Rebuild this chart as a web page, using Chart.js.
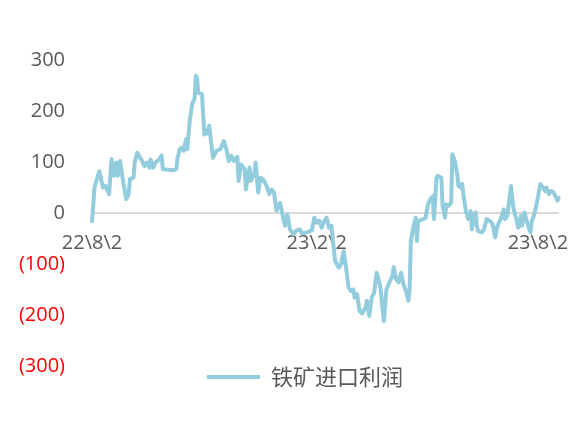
<!DOCTYPE html>
<html>
<head>
<meta charset="utf-8">
<script src="https://cdn.jsdelivr.net/npm/chart.js@4/dist/chart.umd.min.js"></script>
<style>
  html, body { margin: 0; padding: 0; background: #ffffff; }
  #wrap { width: 587px; height: 441px; }
</style>
</head>
<body>
<div id="wrap"><canvas id="c" width="587" height="441"></canvas></div>
<script>
// Series name
const seriesName = '铁矿进口利润';
// Day offsets from 2022-08-02 (calendar days)
const dayOffsets = [
  0, 1, 2, 6, 9, 11, 14, 16, 18, 20, 21, 23, 25, 28, 30, 31, 34, 35, 37, 41,
  43, 45, 47, 48, 50, 52, 55, 57, 58, 67, 69, 70, 72, 74, 75, 77, 78, 80, 82, 84,
  85, 86, 87, 90, 92, 94, 96, 99, 102, 105, 108, 110, 112, 114, 116, 119, 120, 122, 125, 126,
  129, 130, 133, 134, 136, 138, 140, 143, 145, 147, 149, 151, 153, 154, 157, 158, 160, 162, 165, 167,
  170, 172, 176, 180, 182, 184, 186, 188, 190, 192, 194, 196, 197, 199, 202, 204, 206, 208, 210, 212,
  214, 215, 217, 219, 221, 224, 225, 227, 229, 231, 233, 236, 238, 239, 241, 244, 246, 247, 249, 251,
  253, 255, 257, 259, 260, 261, 263, 265, 266, 267, 271, 273, 275, 277, 279, 280, 282, 283, 286, 287,
  289, 290, 292, 294, 295, 297, 299, 300, 302, 303, 304, 306, 308, 310, 311, 312, 314, 315, 316, 319,
  321, 323, 326, 328, 330, 332, 335, 337, 338, 340, 343, 345, 347, 349, 351, 352, 354, 357, 359, 360,
  362, 364, 367, 369, 371, 372, 374, 376, 378, 381, 382
];
// Iron ore import profit values
const profitValues = [
  -16, 14, 50, 82, 50, 53, 37, 106, 73, 99, 73, 102, 69, 27, 37, 67, 69, 99, 118, 102,
  92, 99, 89, 105, 89, 99, 105, 113, 86, 84, 86, 108, 126, 128, 122, 145, 125, 180, 214, 224,
  269, 265, 236, 233, 154, 156, 171, 108, 122, 125, 141, 125, 102, 112, 102, 110, 63, 95, 86, 46,
  89, 63, 79, 99, 40, 69, 66, 53, 37, 46, 40, 5, 14, 20, -16, -25, -3, -32, -42, -35,
  -32, -40, -38, -34, -9, -19, -15, -29, -16, -9, -29, -25, -48, -94, -107, -100, -75, -107, -146, -153,
  -150, -166, -159, -192, -197, -185, -172, -202, -166, -156, -117, -143, -192, -212, -150, -133, -124, -106, -130, -136,
  -117, -140, -153, -172, -153, -55, -29, -9, -55, -16, -12, -10, 17, 27, 33, -12, 69, 73, 69, 14,
  -9, 17, 14, 20, 115, 102, 76, 53, 50, 57, 37, 4, -12, 4, -32, -16, 1, -25, -35, -38,
  -32, -12, -16, -22, -48, -25, -9, 7, -12, -6, 53, 10, -9, -29, -6, -25, 1, -25, -38, -16,
  -3, 17, 57, 50, 43, 50, 37, 43, 40, 24, 30
];
// X tick labels and their day offsets
const xTickDays = [0, 184, 365];
const xTickLabels = ['22\\8\\2', '23\\2\\2', '23\\8\\2'];
// Y axis
const yMin = -300, yMax = 300, yStep = 100;

const points = dayOffsets.map((d, i) => ({ x: d, y: profitValues[i] }));

const textGray = '#595959';
const latinFont = "'Open Sans', 'Noto Sans', sans-serif";

// shift the legend box so it sits where the reference has it
const legendShift = {
  id: 'legendShift',
  afterLayout(chart) {
    if (chart.legend) { chart.legend.left += 22; chart.legend.right += 22; }
  }
};

new Chart(document.getElementById('c'), {
  type: 'line',
  data: {
    datasets: [{
      label: seriesName,
      data: points,
      borderColor: '#93CDDD',
      backgroundColor: '#93CDDD',
      borderWidth: 4,
      pointRadius: 0,
      tension: 0,
      borderJoinStyle: 'round',
      borderCapStyle: 'round',
      clip: 6
    }]
  },
  plugins: [legendShift],
  options: {
    responsive: false,
    animation: false,
    devicePixelRatio: 1,
    layout: { padding: { top: 60, right: 21, bottom: 43, left: 0 } },
    plugins: {
      tooltip: { enabled: false },
      legend: {
        position: 'bottom',
        labels: {
          usePointStyle: true,
          pointStyle: 'line',
          pointStyleWidth: 53,
          padding: 0,
          color: textGray,
          font: { size: 22, family: "'Noto Sans CJK SC', sans-serif" }
        }
      }
    },
    scales: {
      x: {
        type: 'linear',
        position: { y: 0 },
        min: 0,
        max: 382,
        grid: { display: false, drawTicks: false },
        border: { display: true, color: '#D9D9D9', width: 2 },
        afterBuildTicks: (axis) => { axis.ticks = xTickDays.map(v => ({ value: v })); },
        ticks: {
          autoSkip: false,
          maxRotation: 0,
          padding: 18,
          color: textGray,
          font: { size: 20, family: latinFont },
          callback: (v) => {
            const i = xTickDays.indexOf(v);
            return i >= 0 ? xTickLabels[i] : '';
          }
        }
      },
      y: {
        min: yMin,
        max: yMax,
        afterFit: (s) => { s.width = 92; },
        grid: { display: false, drawTicks: false },
        border: { display: false },
        ticks: {
          stepSize: yStep,
          padding: 27,
          font: { size: 20, family: latinFont },
          color: (ctx) => (ctx.tick && ctx.tick.value < 0) ? '#FF0000' : textGray,
          callback: (v) => v < 0 ? '(' + (-v) + ')' : String(v)
        }
      }
    }
  }
});
</script>
</body>
</html>
